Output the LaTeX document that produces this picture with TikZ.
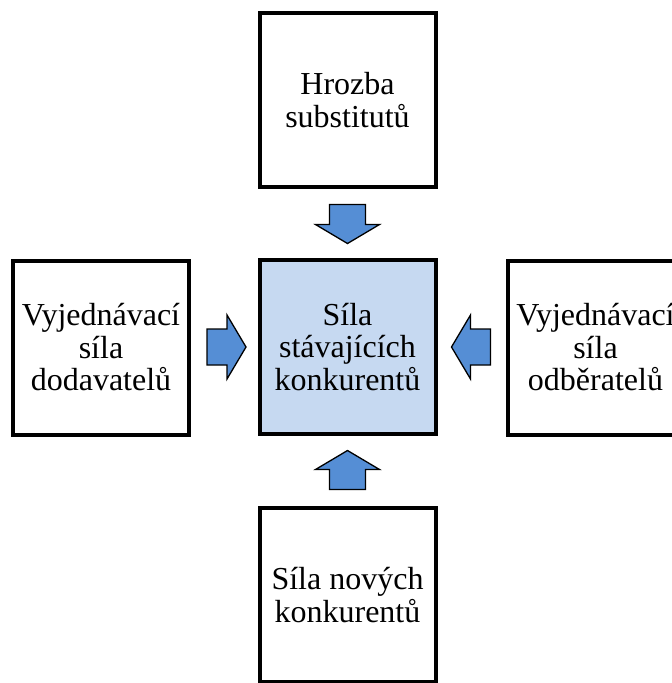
\documentclass[tikz,border=0pt]{standalone}
\usepackage{fontspec}
\setmainfont{Liberation Serif}
\definecolor{arrowblue}{RGB}{85,142,213}
\definecolor{centerfill}{RGB}{198,217,241}
\tikzset{
  forcebox/.style={draw=black, line width=4pt, minimum width=176pt, minimum height=174pt,
    align=center, inner sep=0pt, font=\fontsize{32}{32.5}\selectfont},
  blockarrowstyle/.style={draw=black, line width=1.3pt, fill=arrowblue, line join=miter},
  blockarrow/.pic={
    \draw[blockarrowstyle] (-19.5,-18) -- (0.5,-18) -- (0.5,-32) -- (19.5,0) -- (0.5,32) -- (0.5,18) -- (-19.5,18) -- cycle;
  }
}
\begin{document}
\begin{tikzpicture}[x=1pt,y=-1pt]
\useasboundingbox (0,0) rectangle (672,683);
\clip (0,0) rectangle (672,683);
\node[forcebox] (top) at (347.5,100) {Hrozba\\substitutů};
\node[forcebox, fill=centerfill] (center) at (347.5,347) {Síla\\stávajících\\konkurentů};
\node[forcebox] (left) at (101,347.5) {Vyjednávací\\síla\\dodavatelů};
\node[forcebox] (right) at (595.5,347.5) {Vyjednávací\\síla\\odběratelů};
\node[forcebox] (bottom) at (347.5,595) {Síla nových\\konkurentů};
\coordinate (atop) at (347.5,224);
\coordinate (aleft) at (226.5,347);
\coordinate (aright) at (471,347);
\coordinate (abottom) at (347.5,470);
\pic[rotate=-90] at (atop) {blockarrow};
\pic at (aleft) {blockarrow};
\pic[rotate=180] at (aright) {blockarrow};
\pic[rotate=90] at (abottom) {blockarrow};
\end{tikzpicture}
\end{document}
